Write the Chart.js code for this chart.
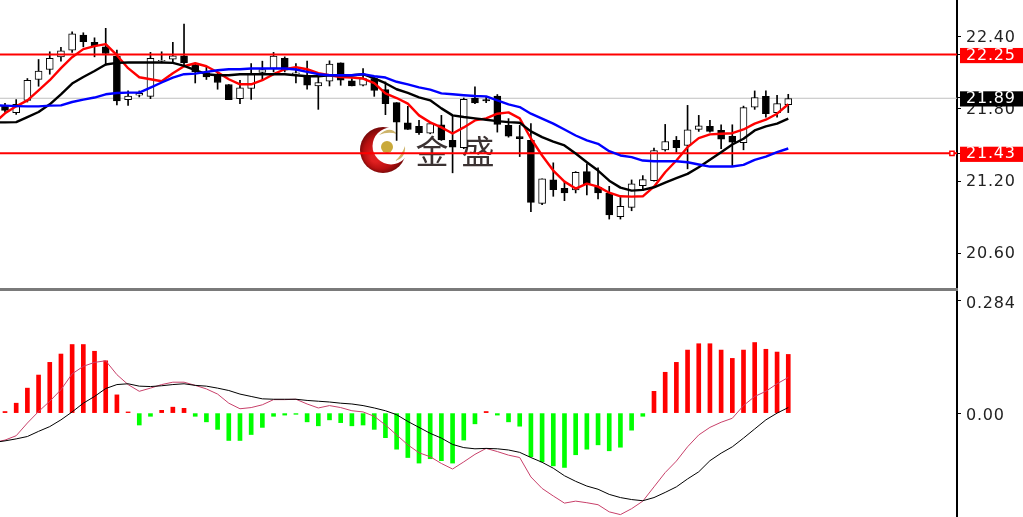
<!DOCTYPE html>
<html><head><meta charset="utf-8">
<style>html,body{margin:0;padding:0;background:#fff;overflow:hidden}canvas{display:block}</style>
<script src="https://cdn.jsdelivr.net/npm/chart.js@4"></script></head>
<body><canvas id="c" width="1023" height="517"></canvas>
<script>
const opens=[21.828,21.768,21.870,22.043,22.126,22.231,22.287,22.412,22.351,22.314,22.237,21.876,21.912,21.903,22.198,22.212,22.239,22.162,22.101,22.073,22.001,21.884,21.968,22.101,22.134,22.218,22.089,22.078,21.989,22.028,22.181,22.031,21.995,22.051,21.959,21.851,21.684,21.653,21.597,21.667,21.537,21.476,21.889,21.876,21.906,21.662,21.568,21.537,21.014,21.209,21.139,21.126,21.278,21.148,21.098,20.903,20.981,21.162,21.203,21.459,21.537,21.495,21.628,21.653,21.620,21.570,21.518,21.814,21.903,21.768,21.834];
const closes=[21.787,21.837,22.037,22.112,22.218,22.281,22.423,22.356,22.322,22.259,21.864,21.906,21.928,22.218,22.203,22.239,22.181,22.106,22.064,22.018,21.876,21.973,22.087,22.126,22.237,22.120,22.098,21.995,22.018,22.170,22.037,21.989,22.051,21.953,21.842,21.689,21.628,21.601,21.676,21.542,21.481,21.878,21.848,21.864,21.670,21.573,21.551,21.023,21.218,21.128,21.101,21.273,21.176,21.101,20.918,20.989,21.176,21.212,21.453,21.528,21.476,21.626,21.659,21.612,21.548,21.523,21.809,21.893,21.759,21.842,21.884];
const highs=[21.845,21.876,22.051,22.209,22.273,22.309,22.439,22.431,22.389,22.468,22.287,21.948,21.948,22.268,22.273,22.351,22.503,22.176,22.147,22.098,22.001,22.037,22.176,22.195,22.268,22.231,22.176,22.195,22.064,22.198,22.181,22.051,22.134,22.064,22.022,21.851,21.820,21.703,21.676,21.745,21.745,21.889,21.981,21.898,21.918,21.718,21.662,21.676,21.218,21.351,21.189,21.278,21.342,21.309,21.156,21.064,21.209,21.245,21.473,21.670,21.570,21.828,21.745,21.703,21.667,21.667,21.822,21.948,21.948,21.912,21.920];
const lows=[21.770,21.753,21.856,21.987,22.087,22.195,22.268,22.314,22.231,22.162,21.831,21.828,21.898,21.884,22.181,22.184,22.162,22.014,22.043,21.962,21.876,21.843,21.878,22.037,22.106,22.106,22.014,21.962,21.795,21.989,21.995,21.989,21.989,21.903,21.751,21.537,21.628,21.587,21.592,21.537,21.268,21.468,21.842,21.851,21.606,21.564,21.403,20.945,21.003,21.073,21.037,21.101,21.084,21.051,20.884,20.884,20.953,21.120,21.198,21.448,21.439,21.301,21.612,21.606,21.468,21.320,21.459,21.795,21.731,21.731,21.768];
// moving averages: first value sits one bar before the first candle
const maRed=[21.678,21.762,21.820,21.870,21.953,22.037,22.137,22.228,22.295,22.320,22.337,22.245,22.137,22.062,22.045,22.028,22.095,22.153,22.178,22.153,22.103,22.045,22.003,22.003,22.037,22.087,22.128,22.145,22.128,22.095,22.078,22.064,22.059,22.051,22.012,21.928,21.889,21.842,21.745,21.687,21.645,21.595,21.645,21.703,21.720,21.759,21.770,21.720,21.553,21.412,21.287,21.195,21.137,21.178,21.153,21.103,21.073,21.070,21.073,21.153,21.273,21.370,21.481,21.556,21.587,21.592,21.597,21.628,21.676,21.709,21.759,21.837];
const maBlack=[21.687,21.687,21.689,21.731,21.773,21.837,21.920,22.009,22.064,22.114,22.167,22.181,22.184,22.184,22.184,22.184,22.181,22.156,22.120,22.087,22.078,22.078,22.087,22.087,22.087,22.087,22.087,22.078,22.070,22.070,22.078,22.078,22.078,22.087,22.053,22.012,21.962,21.931,21.895,21.870,21.803,21.745,21.731,21.720,21.709,21.697,21.689,21.684,21.612,21.564,21.528,21.495,21.428,21.356,21.287,21.203,21.145,21.120,21.126,21.148,21.187,21.223,21.259,21.314,21.376,21.439,21.503,21.551,21.620,21.653,21.676,21.718];
const maBlue=[21.828,21.826,21.822,21.820,21.820,21.826,21.828,21.856,21.876,21.893,21.920,21.931,21.934,21.934,21.976,22.018,22.059,22.087,22.092,22.106,22.120,22.128,22.128,22.134,22.134,22.134,22.134,22.126,22.106,22.087,22.078,22.078,22.078,22.087,22.070,22.059,22.024,22.003,21.978,21.959,21.928,21.920,21.912,21.906,21.903,21.870,21.837,21.814,21.759,21.718,21.676,21.628,21.578,21.537,21.509,21.448,21.412,21.398,21.370,21.364,21.364,21.364,21.356,21.337,21.320,21.320,21.320,21.334,21.376,21.403,21.439,21.470];
const macdHist=[0.004,0.025,0.063,0.096,0.128,0.149,0.173,0.173,0.156,0.132,0.046,0.003,-0.030,-0.008,0.007,0.015,0.012,-0.008,-0.022,-0.041,-0.069,-0.069,-0.054,-0.036,-0.008,-0.005,-0.003,-0.022,-0.032,-0.017,-0.024,-0.032,-0.030,-0.041,-0.062,-0.091,-0.112,-0.126,-0.115,-0.120,-0.126,-0.068,-0.027,0.004,-0.005,-0.022,-0.033,-0.110,-0.123,-0.133,-0.137,-0.105,-0.091,-0.080,-0.095,-0.086,-0.043,-0.008,0.055,0.103,0.128,0.159,0.175,0.175,0.159,0.138,0.159,0.178,0.161,0.154,0.148];
const macdFast=[-0.074,-0.068,-0.057,-0.025,0.004,0.030,0.059,0.099,0.118,0.128,0.132,0.097,0.072,0.055,0.063,0.072,0.078,0.078,0.070,0.061,0.048,0.025,0.011,0.014,0.021,0.034,0.034,0.035,0.023,0.013,0.019,0.014,0.006,0.003,-0.008,-0.030,-0.055,-0.080,-0.100,-0.110,-0.127,-0.141,-0.123,-0.104,-0.089,-0.097,-0.106,-0.112,-0.161,-0.190,-0.209,-0.227,-0.222,-0.226,-0.231,-0.249,-0.256,-0.241,-0.222,-0.186,-0.150,-0.121,-0.085,-0.055,-0.036,-0.023,-0.013,0.019,0.042,0.055,0.074,0.090];
const macdSlow=[-0.074,-0.070,-0.065,-0.059,-0.046,-0.034,-0.017,0.003,0.025,0.042,0.062,0.072,0.074,0.068,0.067,0.069,0.072,0.074,0.070,0.068,0.063,0.057,0.048,0.042,0.036,0.035,0.035,0.035,0.032,0.030,0.028,0.025,0.023,0.019,0.013,0.006,-0.004,-0.021,-0.036,-0.051,-0.063,-0.079,-0.087,-0.090,-0.089,-0.090,-0.093,-0.099,-0.112,-0.124,-0.139,-0.158,-0.172,-0.184,-0.192,-0.205,-0.213,-0.218,-0.221,-0.213,-0.200,-0.186,-0.166,-0.148,-0.120,-0.101,-0.085,-0.063,-0.040,-0.017,0.000,0.014];
const supportLevels=[22.25,21.43];
const lastPrice=21.887;
const priceTicks=[22.40,21.80,21.20,20.60,22.25,21.43,21.89];
const macdTicks=[0.284,0];
const tagColors={'22.25':'#ff0000','21.43':'#ff0000','21.89':'#000000'};

const xMin=-0.447,xMax=85.08,markerX=84.63;
const wmark={id:'wmark',beforeDatasetsDraw(ch){
  const g=ch.ctx;g.save();g.letterSpacing='0px';
  const grad=g.createRadialGradient(375,158,4,383,150,24);
  grad.addColorStop(0,'#e02020');grad.addColorStop(.6,'#b81010');grad.addColorStop(1,'#6e0808');
  g.fillStyle=grad;g.beginPath();g.arc(383,150,23,0,Math.PI*2);g.fill();
  g.fillStyle='#fff';g.beginPath();g.arc(391,146,18.5,0,Math.PI*2);g.fill();
  g.fillStyle='#c9a93a';g.beginPath();g.arc(387,147,6,0,Math.PI*2);g.fill();
  g.fillStyle='#cdb46a';
  g.beginPath();g.moveTo(379,135);g.quadraticCurveTo(390,125,397,134);g.quadraticCurveTo(388,131,379,135);g.fill();
  g.beginPath();g.moveTo(405,146);g.quadraticCurveTo(406,158,395,161);g.quadraticCurveTo(402,155,405,146);g.fill();
  g.fillStyle='#3b3232';g.font='400 33px "Noto Sans CJK SC"';g.textAlign='center';g.textBaseline='middle';
  g.fillText('金',432,151);g.fillText('盛',478,151);
  g.restore();
},afterDraw(ch){
  const g=ch.ctx;g.save();g.fillStyle='#7a7a7a';g.fillRect(0,288,958,3);g.restore();
}};
const spacing={id:'spacing',beforeDraw(ch){ch.ctx.letterSpacing='0.8px';}};

const idx=opens.map((_,i)=>i);
const lineData=a=>a.map((y,i)=>({x:i-1,y}));
const lineSet=(label,a,color,w,axis)=>({type:'line',label,data:lineData(a),borderColor:color,borderWidth:w,borderJoinStyle:'round',pointRadius:0,tension:0,yAxisID:axis,order:1});
const datasets=[
  {type:'line',label:'last',data:[{x:xMin,y:lastPrice},{x:xMax,y:lastPrice}],borderColor:'#c0c0c0',borderWidth:1,pointRadius:0,yAxisID:'y',order:5},
  {type:'bar',label:'wick',data:idx.map(i=>({x:i,y:[lows[i],highs[i]]})),backgroundColor:'#000',barThickness:1,grouped:false,yAxisID:'y',order:4},
  {type:'bar',label:'body',data:idx.map(i=>({x:i,y:[opens[i],closes[i]]})),
    backgroundColor:idx.map(i=>closes[i]>=opens[i]?'#fff':'#000'),borderColor:'#000',borderWidth:1,borderSkipped:false,barThickness:7,grouped:false,yAxisID:'y',order:3},
  lineSet('ma blue',maBlue,'#0000ff',2.4,'y'),
  lineSet('ma black',maBlack,'#000',2.4,'y'),
  lineSet('ma red',maRed,'#ff0000',2.4,'y'),
  {type:'line',label:'level 1',data:[{x:xMin,y:supportLevels[0]},{x:xMax,y:supportLevels[0]}],borderColor:'#ff0000',borderWidth:2,pointRadius:0,yAxisID:'y',order:2},
  {type:'line',label:'level 2',data:[{x:xMin,y:supportLevels[1]},{x:markerX,y:supportLevels[1]},{x:xMax,y:supportLevels[1]}],borderColor:'#ff0000',borderWidth:2,
    pointRadius:[0,3,0],pointStyle:'rect',pointBackgroundColor:'#fff',pointBorderColor:'#ff0000',pointBorderWidth:1.5,yAxisID:'y',order:2},
  {type:'bar',label:'macd',data:macdHist.map((y,i)=>({x:i,y})),backgroundColor:macdHist.map(v=>v>=0?'#ff0000':'#00ff00'),barThickness:4,grouped:false,yAxisID:'y2',order:3},
  lineSet('macd slow',macdSlow,'#000',1,'y2'),
  lineSet('macd fast',macdFast,'#c8406a',1,'y2'),
];
const tickFont={family:'"DejaVu Sans"',size:16};
const yBase={type:'linear',position:'right',stack:'panes',
  grid:{display:true,drawOnChartArea:false,drawTicks:true,tickLength:4,color:'#000'},
  border:{display:true,color:'#000',width:2},
  afterFit(s){s.width=66;s.paddingTop=0;s.paddingBottom=0;}};
new Chart(document.getElementById('c'),{
  data:{datasets},
  plugins:[wmark,spacing],
  options:{responsive:false,animation:false,devicePixelRatio:1,
    layout:{padding:0},
    plugins:{legend:{display:false},tooltip:{enabled:false}},
    scales:{
      x:{type:'linear',min:xMin,max:xMax,display:false,offset:false},
      y:{...yBase,stackWeight:290,min:20.295,max:22.703,
        afterBuildTicks(s){s.ticks=priceTicks.map(value=>({value}));},
        ticks:{autoSkip:false,font:tickFont,padding:5,labelOffset:1,
          callback:v=>v.toFixed(2),
          color:c=>tagColors[c.tick.value.toFixed(2)]?'#fff':'#222',
          showLabelBackdrop:c=>!!tagColors[c.tick.value.toFixed(2)],
          backdropColor:c=>tagColors[c.tick.value.toFixed(2)]||'rgba(0,0,0,0)',
          backdropPadding:{left:6,right:30,top:-2,bottom:-2}}},
      y2:{...yBase,stackWeight:227,min:-0.262,max:0.3105,
        afterBuildTicks(s){s.ticks=macdTicks.map(value=>({value}));},
        ticks:{autoSkip:false,font:tickFont,padding:5,labelOffset:3,color:'#222',
          callback:v=>v?v.toFixed(3):v.toFixed(2)}}
    }}
});
</script></body></html>
